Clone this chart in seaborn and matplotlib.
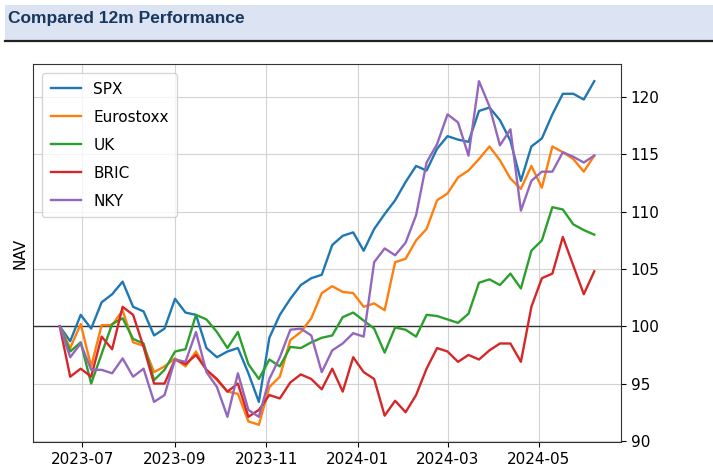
import numpy as np
import pandas as pd
import matplotlib
matplotlib.use('Agg')
import matplotlib.pyplot as plt
import matplotlib.dates as mdates
from matplotlib.patches import Rectangle
from matplotlib.lines import Line2D
import seaborn as sns

# weekly NAV, rebased to 100
dates = pd.date_range('2023-06-16', periods=52, freq='W-FRI')

spx = [100.0, 98.7, 101.0, 99.8, 102.1, 102.8, 103.9, 101.7, 101.3, 99.2,
       99.8, 102.4, 101.2, 101.0, 98.1, 97.3, 97.8, 98.1, 95.9, 93.4,
       99.0, 101.0, 102.4, 103.6, 104.2, 104.5, 107.1, 107.9, 108.2, 106.6,
       108.5, 109.8, 111.0, 112.6, 114.0, 113.6, 115.5, 116.6, 116.3, 116.1,
       118.8, 119.1, 118.0, 116.2, 112.7, 115.7, 116.4, 118.5, 120.3, 120.3,
       119.8, 121.4]
eurostoxx = [100.0, 98.1, 100.2, 96.5, 100.1, 100.1, 101.4, 98.6, 98.3, 96.0,
             96.5, 97.2, 96.5, 97.8, 96.2, 95.3, 94.3, 94.1, 91.7, 91.4,
             94.7, 95.6, 98.8, 99.5, 100.7, 102.9, 103.5, 103.0, 102.9, 101.7,
             102.0, 101.4, 105.6, 105.9, 107.5, 108.5, 111.0, 111.6, 113.0, 113.6,
             114.6, 115.7, 114.5, 112.9, 112.0, 114.0, 112.1, 115.7, 115.2, 114.6,
             113.5, 114.9]
uk = [100.0, 97.8, 98.6, 95.0, 97.6, 100.2, 100.7, 98.9, 98.5, 95.3,
      96.2, 97.8, 98.0, 101.0, 100.6, 99.5, 98.1, 99.5, 96.7, 95.4,
      97.1, 96.5, 98.2, 98.1, 98.6, 99.0, 99.2, 100.8, 101.2, 100.5,
      99.8, 97.7, 99.9, 99.7, 99.1, 101.0, 100.9, 100.6, 100.3, 101.1,
      103.8, 104.1, 103.6, 104.6, 103.3, 106.6, 107.5, 110.4, 110.2, 108.9,
      108.4, 108.0]
bric = [100.0, 95.6, 96.3, 95.6, 99.1, 98.0, 101.7, 101.0, 98.2, 95.0,
        95.0, 97.1, 96.7, 97.5, 96.2, 95.4, 94.3, 95.0, 92.1, 92.7,
        94.0, 93.7, 95.1, 95.8, 95.4, 94.5, 96.3, 94.3, 97.3, 96.0,
        95.4, 92.2, 93.5, 92.5, 94.0, 96.3, 98.1, 97.8, 96.9, 97.5,
        97.1, 97.9, 98.5, 98.5, 96.9, 101.7, 104.2, 104.6, 107.8, 105.3,
        102.8, 104.8]
nky = [100.0, 97.3, 98.5, 96.2, 96.2, 95.9, 97.2, 95.6, 96.3, 93.4,
       94.0, 97.1, 96.9, 99.5, 96.0, 94.7, 92.1, 95.9, 92.7, 92.1,
       95.4, 97.3, 99.7, 99.8, 99.2, 96.0, 97.9, 98.5, 99.4, 99.1,
       105.6, 106.8, 106.2, 107.3, 109.7, 114.3, 115.9, 118.5, 117.8, 114.9,
       121.4, 119.2, 115.8, 117.2, 110.1, 112.7, 113.5, 113.5, 115.2, 114.8,
       114.3, 114.9]

names = ['SPX', 'Eurostoxx', 'UK', 'BRIC', 'NKY']

df = pd.DataFrame({'SPX': spx, 'Eurostoxx': eurostoxx, 'UK': uk,
                   'BRIC': bric, 'NKY': nky}, index=dates)
df.index.name = 'Date'
long_df = df.reset_index().melt(id_vars='Date', var_name='Index', value_name='NAV')

plt.rcParams['font.family'] = ['DejaVu Sans']

fig = plt.figure(figsize=(7.13, 4.73), dpi=100)
ax = fig.add_axes([33/713, 1 - 442/473, (621 - 33)/713, (442 - 64)/473])

sns.lineplot(data=long_df, x='Date', y='NAV', hue='Index', hue_order=names,
             palette='tab10', linewidth=1.7, ax=ax)

ax.axhline(100, color='#333333', linewidth=1.0, zorder=1)
ax.grid(True, color='#d2d2d2', linewidth=0.8)
ax.set_axisbelow(True)

ax.yaxis.tick_right()
ax.yaxis.set_label_position('left')
ax.set_ylabel('NAV', fontsize=11)
ax.set_xlabel('')
ax.set_yticks([90, 95, 100, 105, 110, 115, 120])
ax.xaxis.set_major_locator(mdates.MonthLocator(bymonth=[1, 3, 5, 7, 9, 11]))
ax.xaxis.set_major_formatter(mdates.DateFormatter('%Y-%m'))
ax.tick_params(labelsize=11)
for sp in ax.spines.values():
    sp.set_color('#333333')

leg = ax.legend(loc='upper left', fontsize=11, title=None, labelspacing=0.85,
                borderpad=0.55, borderaxespad=0.6)

# header banner
fig.add_artist(Rectangle((5/713, 1 - 40/473), 1 - 5/713, 35/473,
                         transform=fig.transFigure, facecolor='#dce3f2',
                         edgecolor='none'))
fig.add_artist(Line2D([5/713, 1], [1 - 41/473, 1 - 41/473],
                      transform=fig.transFigure, color='#222222', linewidth=1.6))
fig.text(8/713, 1 - 18/473, 'Compared 12m Performance', fontsize=12.5,
         fontweight='bold', color='#17375e', va='center', ha='left',
         family=['Liberation Sans'])

fig.savefig('out.png', dpi=100)
